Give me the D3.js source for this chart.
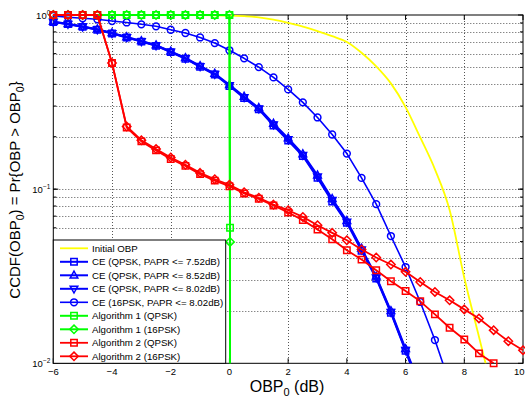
<!DOCTYPE html>
<html><head><meta charset="utf-8">
<script src="https://cdn.jsdelivr.net/npm/d3@7"></script>
<style>body{margin:0;background:#fff} svg{display:block} text{font-family:"Liberation Sans",Arial,Helvetica,sans-serif}</style>
</head><body><svg id="c" width="525" height="397"></svg>
<script>
// ---------- data ----------
const xTicks = [-6,-4,-2,0,2,4,6,8,10];
const yTicks = [0.01,0.1,1];
const yTickExp = ["\u22122","\u22121","0"];

const initX = [-6,-5,-4,-3,-2,-1,-0.5,0,0.5,1,1.5,2,2.5,3,3.5,4,4.5,5,5.5,6,6.5,7,7.5,8,8.5,9];
const initY = [1,1,1,1,1,0.999,0.997,0.993,0.984,0.97,0.94,0.90,0.858,0.808,0.756,0.70,0.607,0.507,0.405,0.296,0.198,0.13,0.076,0.031,0.0142,0.0065];

const ceX = [-6,-5.5,-5,-4.5,-4,-3.5,-3,-2.5,-2,-1.5,-1,-0.5,0,0.5,1,1.5,2,2.5,3,3.5,4,4.5,5,5.5,6,6.5];
const ce752 = [0.910,0.886,0.855,0.823,0.783,0.742,0.703,0.665,0.612,0.561,0.504,0.455,0.391,0.334,0.287,0.232,0.190,0.155,0.116,0.085,0.0640,0.0443,0.0307,0.0195,0.0118,0.0070];
const ce852 = [0.915,0.890,0.860,0.829,0.788,0.747,0.709,0.671,0.618,0.567,0.510,0.461,0.397,0.340,0.293,0.238,0.196,0.159,0.120,0.088,0.0658,0.0457,0.0315,0.0200,0.0121,0.0074];
const ce802 = [0.912,0.888,0.857,0.826,0.785,0.744,0.706,0.668,0.615,0.564,0.507,0.458,0.394,0.337,0.290,0.235,0.193,0.157,0.118,0.0865,0.0649,0.0450,0.0311,0.0197,0.0119,0.0072];

const ce16X = [-6,-5.5,-5,-4.5,-4,-3.5,-3,-2.5,-2,-1.5,-1,-0.5,0,0.5,1,1.5,2,2.5,3,3.5,4,4.5,5,5.5,6,6.5,7,7.5];
const ce16 = [0.987,0.970,0.957,0.945,0.924,0.906,0.884,0.861,0.823,0.788,0.743,0.690,0.627,0.564,0.502,0.438,0.374,0.315,0.258,0.206,0.160,0.116,0.082,0.0538,0.0357,0.0225,0.0136,0.0077];

const alg1X = [-6,-5.5,-5,-4.5,-4,-3.5,-3,-2.5,-2,-1.5,-1,-0.5,0,0.02,0.02];
const alg1Q = [1,1,1,1,1,1,1,1,1,1,1,1,1,0.060,0.001];
const alg1P = [1,1,1,1,1,1,1,1,1,1,1,1,1,0.0498,0.001];

const alg2QX = [-6,-5.5,-5,-4.5,-4,-3.5,-3,-2.5,-2,-1.5,-1,-0.5,0,0.5,1,1.5,2,2.5,3,3.5,4,4.5,5,5.5,6,6.5,7,7.5,8,8.5,9];
const alg2Q = [1,1,1,1,0.53,0.226,0.188,0.167,0.149,0.136,0.122,0.112,0.104,0.0945,0.088,0.0805,0.0735,0.0664,0.0587,0.0516,0.0446,0.0394,0.0342,0.0296,0.0260,0.0227,0.0191,0.0160,0.0137,0.0114,0.0100];
const alg2PX = [-6,-5.5,-5,-4.5,-4,-3.5,-3,-2.5,-2,-1.5,-1,-0.5,0,0.5,1,1.5,2,2.5,3,3.5,4,4.5,5,5.5,6,6.5,7,7.5,8,8.5,9,9.5,10];
const alg2P = [1,1,1,1,0.53,0.229,0.191,0.170,0.152,0.138,0.124,0.114,0.106,0.096,0.0892,0.0815,0.0757,0.0693,0.0621,0.0561,0.0509,0.0450,0.0405,0.0369,0.0335,0.0293,0.0257,0.0230,0.0204,0.0181,0.0155,0.0134,0.0119];

const names = ["Initial OBP","CE (QPSK, PAPR <= 7.52dB)","CE (QPSK, PAPR <= 8.52dB)","CE (QPSK, PAPR <= 8.02dB)","CE (16PSK, PAPR <= 8.02dB)","Algorithm 1 (QPSK)","Algorithm 1 (16PSK)","Algorithm 2 (QPSK)","Algorithm 2 (16PSK)"];

// ---------- setup ----------
const svg = d3.select("#c");
const L=53.3, R=523, T=15, B=363.3;
const x = d3.scaleLinear().domain([-6,10]).range([L,R]);
const y = d3.scaleLog().domain([0.01,1]).range([B,T]);

const series = [
  {xs:initX, ys:initY, color:"#ffff00", lw:1.8, marker:null, curve:true},
  {xs:ceX, ys:ce752, color:"#0000ff", lw:2, marker:"square"},
  {xs:ceX, ys:ce852, color:"#0000ff", lw:2, marker:"triup"},
  {xs:ceX, ys:ce802, color:"#0000ff", lw:2, marker:"tridown"},
  {xs:ce16X, ys:ce16, color:"#0000ff", lw:1.6, marker:"circle"},
  {xs:alg1X, ys:alg1Q, color:"#00ff00", lw:2, marker:"square"},
  {xs:alg1X, ys:alg1P, color:"#00ff00", lw:2, marker:"diamond"},
  {xs:alg2QX, ys:alg2Q, color:"#ff0000", lw:1.8, marker:"square"},
  {xs:alg2PX, ys:alg2P, color:"#ff0000", lw:1.8, marker:"diamond"}
];
series.forEach((s,i)=>s.name=names[i]);

// ---------- grid ----------
const grid = svg.append("g").attr("stroke","#555").attr("stroke-width",1).attr("stroke-dasharray","1,2");
xTicks.filter(v=>v>-6 && v<10).forEach(v=>{
  grid.append("line").attr("x1",Math.round(x(v))+0.5).attr("x2",Math.round(x(v))+0.5).attr("y1",T).attr("y2",B);
});
const minorY = [];
[0.01,0.1].forEach(d=>{for(let k=1;k<=9;k++){ if(d*k>0.01 && d*k<1) minorY.push(d*k);} });
minorY.forEach(v=>{
  grid.append("line").attr("x1",L).attr("x2",R).attr("y1",Math.round(y(v))+0.5).attr("y2",Math.round(y(v))+0.5);
});

// ---------- axes box + ticks ----------
const ax = svg.append("g").attr("stroke","#000").attr("stroke-width",1).attr("fill","none");
ax.append("rect").attr("x",L).attr("y",T).attr("width",R-L).attr("height",B-T);
xTicks.forEach(v=>{
  const px=x(v);
  ax.append("line").attr("x1",px).attr("x2",px).attr("y1",B).attr("y2",B-5);
  ax.append("line").attr("x1",px).attr("x2",px).attr("y1",T).attr("y2",T+5);
});
yTicks.forEach(v=>{
  const py=y(v);
  ax.append("line").attr("x1",L).attr("x2",L+5).attr("y1",py).attr("y2",py);
  ax.append("line").attr("x1",R).attr("x2",R-5).attr("y1",py).attr("y2",py);
});
minorY.forEach(v=>{
  const py=y(v);
  ax.append("line").attr("x1",L).attr("x2",L+3).attr("y1",py).attr("y2",py);
  ax.append("line").attr("x1",R).attr("x2",R-3).attr("y1",py).attr("y2",py);
});

// tick labels
const tl = svg.append("g").attr("font-size",9.5).attr("fill","#000");
xTicks.forEach(v=>{
  const last = v===10;
  tl.append("text").attr("x",last?524.5:x(v)).attr("y",375).attr("text-anchor",last?"end":"middle").text(v<0?"\u2212"+Math.abs(v):String(v));
});
yTicks.forEach((v,i)=>{
  const t = tl.append("text").attr("x",L-3).attr("y",y(v)+3.5).attr("text-anchor","end");
  t.append("tspan").text("10");
  t.append("tspan").attr("dy",-4).attr("font-size",6.5).text(yTickExp[i]);
});

// axis labels
const xl = svg.append("text").attr("x",287).attr("y",392).attr("text-anchor","middle").attr("font-size",16);
xl.append("tspan").text("OBP");
xl.append("tspan").attr("font-size",11).attr("dy",4).text("0");
xl.append("tspan").attr("dy",-4).text(" (dB)");

const yl = svg.append("text").attr("transform","translate(19.5,190) rotate(-90)").attr("text-anchor","middle").attr("font-size",15);
yl.append("tspan").text("CCDF(OBP");
yl.append("tspan").attr("font-size",10.5).attr("dy",4).text("0");
yl.append("tspan").attr("dy",-4).text(") = Pr{OBP > OBP");
yl.append("tspan").attr("font-size",10.5).attr("dy",4).text("0");
yl.append("tspan").attr("dy",-4).text("}");

// ---------- markers ----------
function markerPath(type){
  const s=3.2;
  switch(type){
    case "square": return `M${-s},${-s}H${s}V${s}H${-s}Z`;
    case "diamond": return `M0,${-4.2}L4.2,0L0,4.2L-4.2,0Z`;
    case "triup": return `M0,-4.2L3.8,2.6L-3.8,2.6Z`;
    case "tridown": return `M0,4.2L3.8,-2.6L-3.8,-2.6Z`;
  }
  return "";
}
function drawMarker(g, type, px, py, color, sw){
  if(type==="circle"){
    g.append("circle").attr("cx",px).attr("cy",py).attr("r",3.4).attr("fill","none").attr("stroke",color).attr("stroke-width",sw);
  } else {
    g.append("path").attr("d",markerPath(type)).attr("transform",`translate(${px},${py})`).attr("fill","none").attr("stroke",color).attr("stroke-width",sw);
  }
}

// ---------- series ----------
svg.append("defs").append("clipPath").attr("id","clip").append("rect").attr("x",L-3).attr("y",T-3).attr("width",R-L+6).attr("height",B-T+3);
const plot = svg.append("g");
series.forEach(s=>{
  const pts = s.xs.map((xv,i)=>[xv,s.ys[i]]);
  const line = d3.line().x(d=>x(d[0])).y(d=>y(d[1]));
  if(s.curve) line.curve(d3.curveMonotoneX);
  plot.append("path").attr("clip-path","url(#clip)").attr("d",line(pts)).attr("fill","none").attr("stroke",s.color).attr("stroke-width",s.lw).attr("stroke-linejoin","round");
  if(s.marker){
    const mg = plot.append("g");
    pts.filter(d=>d[1]>=0.0099 && d[0]<=10).forEach(d=>drawMarker(mg,s.marker,x(d[0]),y(d[1]),s.color,1.5));
  }
});

// ---------- legend ----------
const lg = svg.append("g");
lg.append("rect").attr("x",L).attr("y",240).attr("width",225.7-L).attr("height",B-240).attr("fill","#fff").attr("stroke","#000").attr("stroke-width",1);
series.forEach((s,i)=>{
  const ly = 248.3 + i*13.5;
  lg.append("line").attr("x1",60).attr("x2",88).attr("y1",ly).attr("y2",ly).attr("stroke",s.color).attr("stroke-width",s.lw);
  if(s.marker) drawMarker(lg,s.marker,74,ly,s.color,1.5);
  lg.append("text").attr("x",92).attr("y",ly+3.5).attr("font-size",9.7).text(s.name);
});
</script></body></html>
